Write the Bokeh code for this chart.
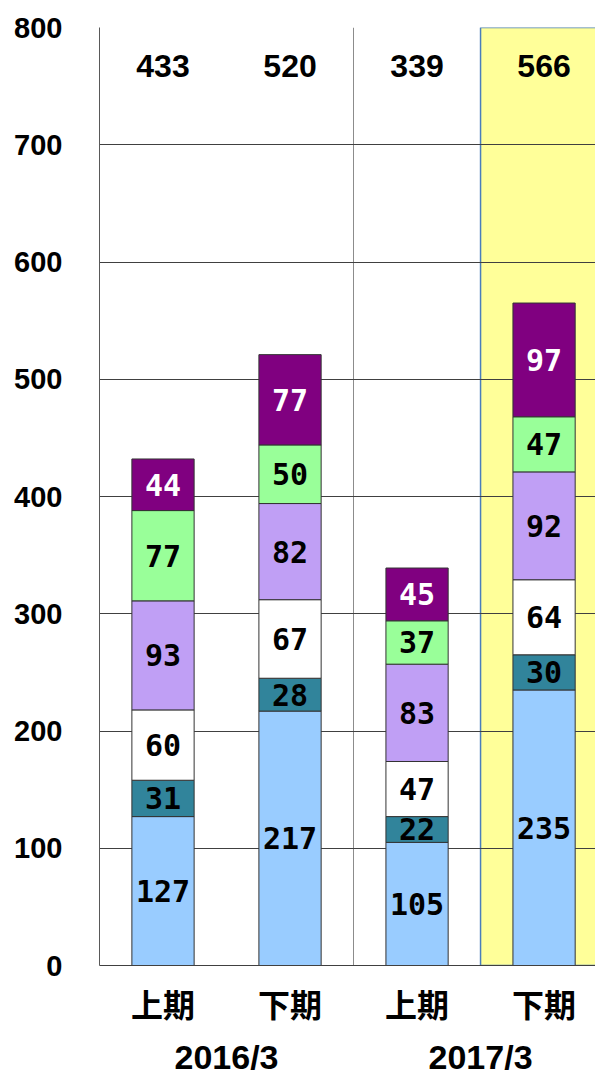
import numpy as np
from bokeh.plotting import figure
from bokeh.models import ColumnDataSource, FixedTicker, LinearAxis, Range1d
from bokeh.core.properties import value
from bokeh.embed import file_html
from bokeh.resources import INLINE

# ---- data ----
periods = ["上期", "下期", "上期", "下期"]
years = ["2016/3", "2017/3"]
totals = [433, 520, 339, 566]
s1 = [127, 217, 105, 235]
s2 = [31, 28, 22, 30]
s3 = [60, 67, 47, 64]
s4 = [93, 82, 83, 92]
s5 = [77, 50, 37, 47]
s6 = [44, 77, 45, 97]
series = [s1, s2, s3, s4, s5, s6]
colors = ["#99CCFF", "#31849B", "#FFFFFF", "#C09FF5", "#99FF99", "#800080"]
label_colors = ["#000000", "#000000", "#000000", "#000000", "#000000", "#FFFFFF"]
y_ticks = list(range(0, 801, 100))
highlight_index = 3

n = len(periods)
x = np.arange(n) + 0.5

p = figure(frame_width=496, frame_height=938,
           x_range=Range1d(0, 3.905), y_range=Range1d(0, 800),
           output_backend="svg", toolbar_location=None,
           min_border_left=99, min_border_right=0, min_border_top=27,
           min_border_bottom=0, outline_line_color=None,
           background_fill_color="white", border_fill_color="white")

# highlighted period
p.quad(left=[x[highlight_index] - 0.5], right=[x[highlight_index] + 1.5],
       bottom=[0], top=[800], fill_color="#FFFF99", line_color="#4A7EBB",
       line_width=1.5, level="image")

# grids
p.ygrid.ticker = FixedTicker(ticks=y_ticks)
p.ygrid.grid_line_color = "#404040"
p.ygrid.grid_line_width = 1
p.xgrid.ticker = FixedTicker(ticks=[2.0])
p.xgrid.grid_line_color = "#8C8C8C"
p.xgrid.grid_line_width = 1

# stacked bars
bottom = np.zeros(n)
for vals, col, lc in zip(series, colors, label_colors):
    vals = np.array(vals, dtype=float)
    top = bottom + vals
    src = ColumnDataSource(dict(x=x, bottom=bottom, top=top,
                                mid=bottom + vals / 2,
                                txt=[str(int(v)) for v in vals]))
    p.vbar(x="x", width=0.49, bottom="bottom", top="top", source=src,
           fill_color=col, line_color="#333333", line_width=1)
    p.text(x="x", y="mid", text="txt", source=src,
           text_font=value("DejaVu Sans Mono"), text_font_style="bold",
           text_font_size="30px", text_color=lc,
           text_align="center", text_baseline="middle")
    bottom = top

# totals row
tsrc = ColumnDataSource(dict(x=x, y=[767] * n, txt=[str(t) for t in totals]))
p.text(x="x", y="y", text="txt", source=tsrc,
       text_font=value("Liberation Sans"), text_font_style="bold",
       text_font_size="32px", text_color="#000000",
       text_align="center", text_baseline="middle")

# y axis
p.yaxis.ticker = FixedTicker(ticks=y_ticks)
p.yaxis.major_tick_line_color = None
p.yaxis.minor_tick_line_color = None
p.yaxis.axis_line_color = "#595959"
p.yaxis.major_label_standoff = 31
p.yaxis.major_label_text_font = "Liberation Sans"
p.yaxis.major_label_text_font_style = "bold"
p.yaxis.major_label_text_font_size = "29px"
p.yaxis.major_label_text_color = "#000000"

# x axis (periods)
p.xaxis.ticker = FixedTicker(ticks=list(x))
p.xaxis.major_label_overrides = {float(xi): lab for xi, lab in zip(x, periods)}
p.xaxis.major_tick_line_color = None
p.xaxis.minor_tick_line_color = None
p.xaxis.axis_line_color = "#404040"
p.xaxis.major_label_standoff = 8
p.xaxis.major_label_text_font = "Noto Sans CJK JP"
p.xaxis.major_label_text_font_style = "bold"
p.xaxis.major_label_text_font_size = "32px"
p.xaxis.major_label_text_color = "#000000"

# year axis
year_pos = [float(x[0] + x[1]) / 2, float(x[2] + x[3]) / 2]
ax2 = LinearAxis(ticker=FixedTicker(ticks=year_pos),
                 major_label_overrides={yp: yl for yp, yl in zip(year_pos, years)},
                 axis_line_color=None, major_tick_line_color=None,
                 minor_tick_line_color=None, major_label_standoff=3,
                 major_label_text_font="Liberation Sans",
                 major_label_text_font_style="bold",
                 major_label_text_font_size="34px",
                 major_label_text_color="#000000")
p.add_layout(ax2, "below")

open("out.html", "w").write(file_html(p, INLINE))
